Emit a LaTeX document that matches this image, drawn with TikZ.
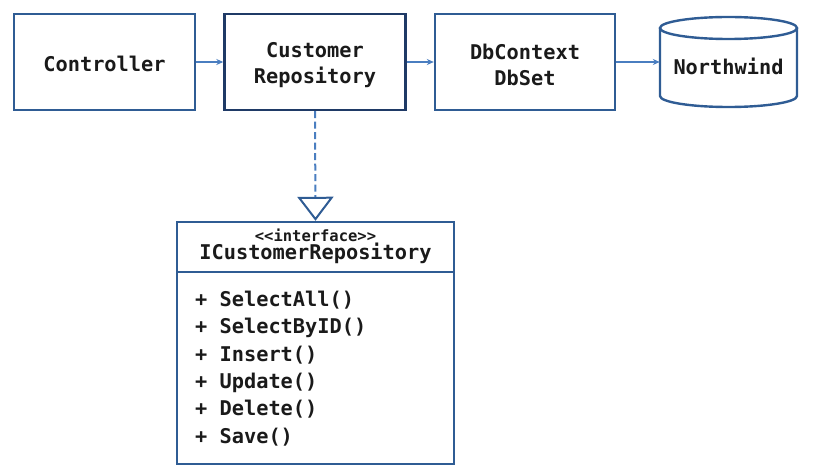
\documentclass[tikz,border=0pt]{standalone}
\usepackage{fontspec}
\setmonofont{DejaVu Sans Mono}
\usetikzlibrary{arrows.meta}
\definecolor{boxblue}{HTML}{2F5C94}
\definecolor{darkblue}{HTML}{1F3A66}
\definecolor{arrowblue}{HTML}{4A7EC0}
\definecolor{txt}{HTML}{1A1A1A}
\tikzset{
  box/.style={draw=boxblue, line width=2.4pt, minimum width=181pt, minimum height=96pt, inner sep=0pt,
    align=center, font=\ttfamily\bfseries\fontsize{20.3}{28}\selectfont, text=txt},
  flow/.style={-{Stealth[length=7pt,width=6pt]}, draw=arrowblue, line width=2pt},
  mono/.style={font=\ttfamily\bfseries\fontsize{20.3}{27.3}\selectfont, text=txt, inner sep=0pt}
}
\begin{document}
\begin{tikzpicture}[x=1pt,y=-1pt]
\useasboundingbox (0,0) rectangle (815,473);
\node[box] (ctrl) at (104.5,62) {\raisebox{-2pt}[\height][\depth]{Controller}};
\node[box, draw=darkblue] (repo) at (315,62) {\raisebox{-3pt}[\height][\depth]{\shortstack{Customer\\[7pt]Repository}}};
\node[box, minimum width=180pt] (db) at (525,62) {\raisebox{-3pt}[\height][\depth]{\shortstack{DbContext\\[7pt]DbSet}}};
% cylinder
\draw[boxblue, line width=2.4pt, fill=white] (660,28) -- (660,96) arc[start angle=180, end angle=0, x radius=68.5, y radius=11] -- (797,28);
\draw[boxblue, line width=2.4pt] (728.5,28) ellipse[x radius=68.5, y radius=11];
\node[mono, minimum width=137pt, minimum height=90pt] (nw) at (728.5,66) {Northwind};
% interface box
\node[draw=boxblue, line width=2.4pt, minimum width=277pt, minimum height=242pt, inner sep=0pt] (iface) at (315.5,343) {};
\draw[boxblue, line width=2.4pt] (177,272) -- (454,272);
\node[mono, font=\ttfamily\bfseries\fontsize{15.5}{18}\selectfont] (stereo) at (315.5,235) {<{}<interface>{}>};
\node[mono] (iname) at (315.5,253) {ICustomerRepository};
\node[mono, anchor=north west, align=left] (ops) at (195,291) {+ SelectAll()\\+ SelectByID()\\+ Insert()\\+ Update()\\+ Delete()\\+ Save()};
% connectors
\draw[flow] (ctrl.east) -- (repo.west);
\draw[flow] (repo.east) -- (db.west);
\draw[flow] (db.east) -- (db.east -| nw.west);
\draw[draw=arrowblue, line width=2pt, dash pattern=on 7pt off 3.5pt, -{Triangle[open, width=36pt, length=24pt, line width=2pt, color=boxblue]}] (repo.south) -- (iface.north);
\end{tikzpicture}
\end{document}
